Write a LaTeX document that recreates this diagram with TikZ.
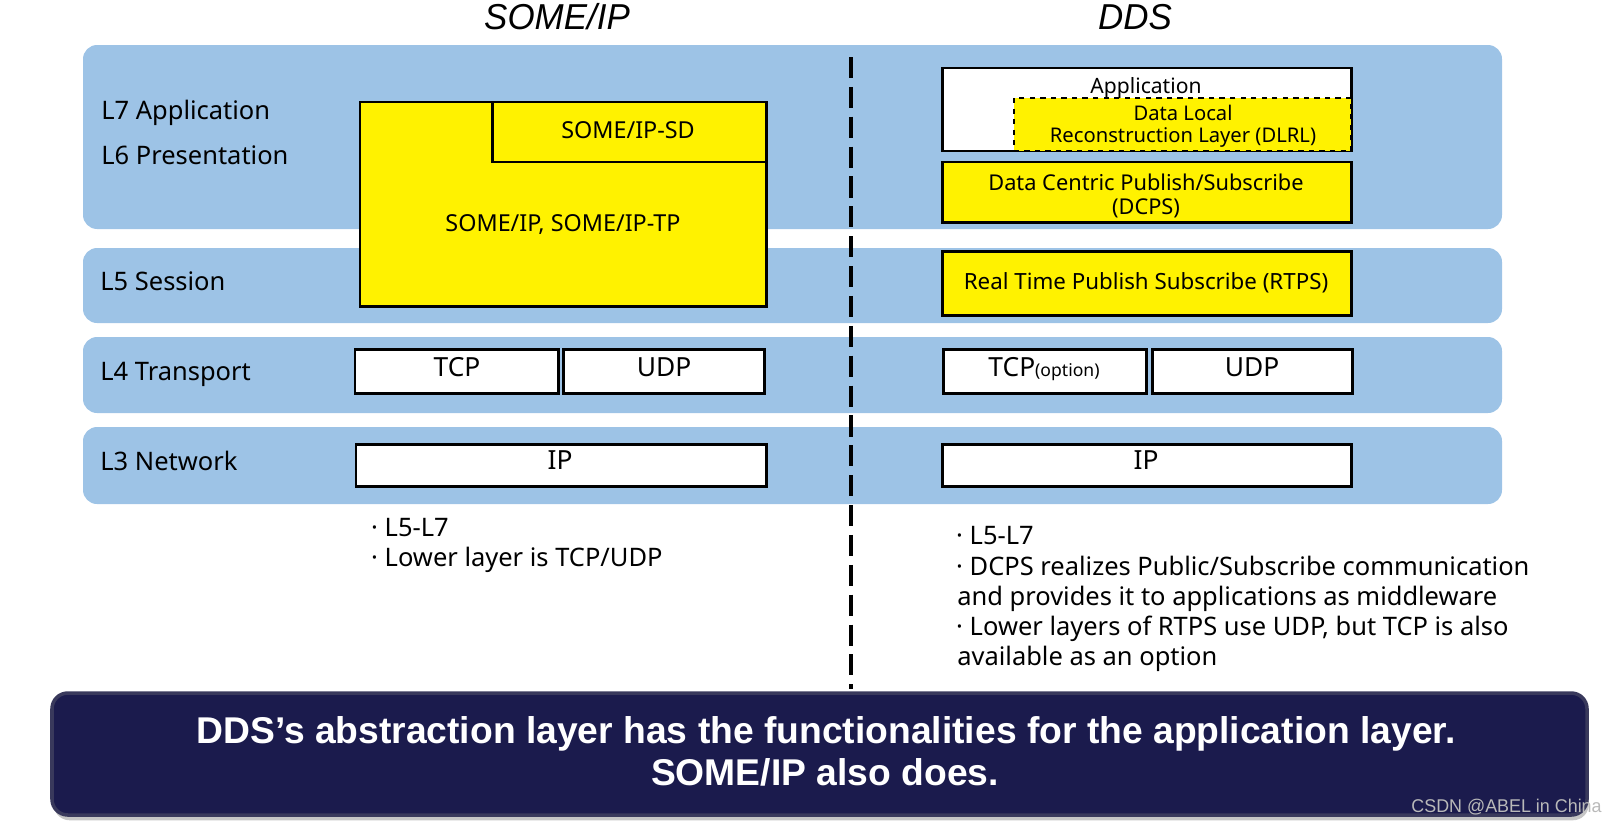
\documentclass[tikz,border=0pt]{standalone}
\usepackage{fontspec}
\setmainfont{Noto Sans}
\newfontfamily\bannerfont{Liberation Sans}
\newfontfamily\headfont[FakeStretch=0.97]{Liberation Sans}
\usetikzlibrary{shadows}
\definecolor{layerblue}{RGB}{157,195,230}
\definecolor{bannernavy}{RGB}{27,27,77}

\begin{document}
\begin{tikzpicture}[x=0.02cm,y=-0.02cm,
    layer/.style={fill=layerblue,rounded corners=8pt},
    box/.style={draw=black,line width=1.7pt},
    dlrl/.style={draw=black,dashed,line width=1.4pt,fill=yellow},
    layername/.style={anchor=base west,inner sep=0pt,font=\fontsize{14.5}{17}\selectfont},
    boxtext/.style={anchor=base,inner sep=0pt,font=\fontsize{12.5}{15}\selectfont},
    prototext/.style={anchor=base,inner sep=0pt,font=\fontsize{15}{18}\selectfont},
    bullet/.style={anchor=base west,inner sep=0pt,font=\fontsize{14.5}{17}\selectfont},
    headtext/.style={anchor=base,inner sep=0pt,font=\headfont\itshape\fontsize{20.5}{24}\selectfont},
    bannertext/.style={anchor=base,inner sep=0pt,text=white,font=\bannerfont\bfseries\fontsize{21.2}{25}\selectfont}]

    \useasboundingbox (0,0) rectangle (1618,822);

    \fill[layer](83,45) rectangle (1502,229);
    \fill[layer](83,248) rectangle (1502,323);
    \fill[layer](83,337) rectangle (1502,413);
    \fill[layer](83,427) rectangle (1502,504);

    \node[headtext] (someiphead) at (557,29) {SOME/IP};
    \node[headtext] (ddshead) at (1135,29) {DDS};

    \node[layername] (l7) at (101,119) {L7 Application};
    \node[layername] (l6) at (101,164) {L6 Presentation};
    \node[layername] (l5) at (100,290) {L5 Session};
    \node[layername] (l4) at (100,380) {L4 Transport};
    \node[layername] (l3) at (100,470) {L3 Network};

    \draw[box,fill=yellow](360,102) rectangle (766,306);
    \draw[box,fill=yellow](492,102) rectangle (766,162);
    \node[boxtext,font=\fontsize{13.3}{16}\selectfont] (sd) at (628,138) {SOME/IP-SD};
    \node[boxtext,font=\fontsize{13.3}{16}\selectfont] (someip) at (563,231) {SOME/IP, SOME/IP-TP};

    \draw[box,fill=white](355,349) rectangle (558,393);
    \draw[box,fill=white](563,349) rectangle (764,393);
    \draw[box,fill=white](356,444) rectangle (766,486);
    \node[prototext] (tcpl) at (457,376) {TCP};
    \node[prototext] (udpl) at (664,376) {UDP};
    \node[prototext] (ipl) at (560,469) {IP};

    \draw[box,fill=white](942,68) rectangle (1351,151);
    \draw[dlrl](1014,98) rectangle (1351,151);
    \draw[box,fill=yellow](942,162) rectangle (1351,222);
    \draw[box,fill=yellow](942,251) rectangle (1351,315);
    \node[boxtext,font=\fontsize{12}{14}\selectfont] (app) at (1146,93) {Application};
    \node[boxtext,font=\fontsize{11.5}{13}\selectfont] (dlrl1) at (1183,120) {Data Local};
    \node[boxtext,font=\fontsize{11.5}{13}\selectfont] (dlrl2) at (1183,142) {Reconstruction Layer (DLRL)};
    \node[boxtext,font=\fontsize{12.4}{15}\selectfont] (dcps1) at (1146,190) {Data Centric Publish/Subscribe};
    \node[boxtext,font=\fontsize{12.4}{15}\selectfont] (dcps2) at (1146,214) {(DCPS)};
    \node[boxtext,font=\fontsize{12.7}{15}\selectfont] (rtps) at (1146,289) {Real Time Publish Subscribe (RTPS)};

    \draw[box,fill=white](943,349) rectangle (1146,393);
    \draw[box,fill=white](1152,349) rectangle (1352,393);
    \draw[box,fill=white](942,444) rectangle (1351,486);
    \node[prototext] (tcpr) at (1044,376) {TCP{\fontsize{10}{12}\selectfont(option)}};
    \node[prototext] (udpr) at (1252,376) {UDP};
    \node[prototext] (ipr) at (1146,469) {IP};

    \coordinate (divtop) at (851,57);
    \coordinate (divbot) at (851,689);
    \draw[line width=2pt,dash pattern=on 12pt off 5pt](divtop)--(divbot);

    \node[bullet] (bl1) at (364,536) {\makebox[0.8em]{·}L5-L7};
    \node[bullet] (bl2) at (364,566) {\makebox[0.8em]{·}Lower layer is TCP/UDP};

    \node[bullet] (br1) at (949,544) {\makebox[0.8em]{·}L5-L7};
    \node[bullet] (br2) at (949,575) {\makebox[0.8em]{·}DCPS realizes Public/Subscribe communication};
    \node[bullet] (br3) at (957,605) {and provides it to applications as middleware};
    \node[bullet] (br4) at (949,635) {\makebox[0.8em]{·}Lower layers of RTPS use UDP, but TCP is also};
    \node[bullet] (br5) at (957,665) {available as an option};

    \draw[fill=bannernavy,draw=bannernavy!70!gray,line width=2pt,rounded corners=9pt,
        drop shadow={shadow xshift=1pt,shadow yshift=-3pt,opacity=0.45}](52,693) rectangle (1587,815);
    \node[bannertext] (sum1) at (826,743) {DDS’s abstraction layer has the functionalities for the application layer.};
    \node[bannertext] (sum2) at (825,785) {SOME/IP also does.};

    \node[anchor=base east,inner sep=0pt,text=gray!55,font=\headfont\fontsize{10.5}{13}\selectfont] (mark) at (1602,812) {CSDN @ABEL in China};
\end{tikzpicture}
\end{document}
